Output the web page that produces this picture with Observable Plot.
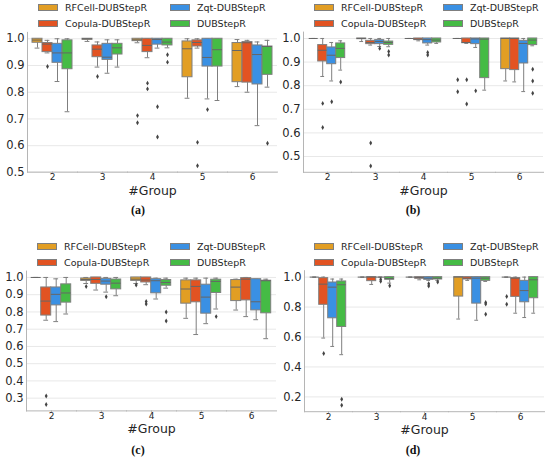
<!DOCTYPE html>
<html>
<head>
<meta charset="utf-8">
<script src="https://cdn.jsdelivr.net/npm/d3@7"></script>
<script src="https://cdn.jsdelivr.net/npm/@observablehq/plot@0.6"></script>
<style>
  body { margin: 0; width: 550px; height: 460px; position: relative; overflow: hidden; background: #fff; font-family: "DejaVu Sans", sans-serif; }
  .leg { position: absolute; }
  .leg-item { position: absolute; display: flex; align-items: center; height: 15px; font-size: 9.5px; color: #262626; white-space: nowrap; }
  .sw { width: 20px; height: 7px; border: 1px solid #7f7f7f; box-sizing: border-box; margin-right: 7px; }
  .cap { position: absolute; font: bold 12px "Liberation Serif", serif; color: #111; transform: translate(-50%, -50%); }
  svg.panel { position: absolute; overflow: visible; }
</style>
</head>
<body>
<script>
// ---------- data ----------
const groups = [2, 3, 4, 5, 6];
const methods = ["RFCell-DUBStepR", "Copula-DUBStepR", "Zqt-DUBStepR", "DUBStepR"];
const colors = ["#E29E24", "#E25322", "#3A90E3", "#45BB45"];
const captions = ["(a)", "(b)", "(c)", "(d)"];
const xLabel = "#Group";

// values are group-major: for each group 2..6, methods in the order above
const aLow  = [0.965,0.947,0.84,0.727, 0.99,0.894,0.871,0.894, 0.985,0.929,0.965,0.966, 0.7775,0.965,0.775,0.769, 0.821,0.8,0.675,0.819];
const aQ1   = [0.985,0.95,0.91,0.886, 0.996,0.931,0.921,0.941, 0.991,0.95,0.978,0.975, 0.856,0.971,0.896,0.896, 0.8375,0.836,0.829,0.865];
const aMed  = [0.995,0.98,0.947,0.947, 1.0,0.961,0.931,0.966, 0.996,0.975,0.997,0.9875, 0.9625,0.986,0.93,0.959, 0.956,0.985,0.941,0.971];
const aQ3   = [1.0,0.984,0.981,0.994, 1.0,0.975,0.981,0.981, 1.0,1.0,1.0,1.0, 0.99,0.994,1.0,1.0, 0.984,0.9875,0.975,0.971];
const aHigh = [1.0,0.994,1.0,1.0, 1.0,0.988,0.996,0.996, 1.0,1.0,1.0,1.0, 1.0,1.0,1.0,1.0, 0.997,0.994,0.988,0.994];
const aOut  = [[],[0.896],[],[], [],[0.859],[],[], [0.7125,0.686],[0.834,0.8125],[0.746,0.6325],[0.94,0.9125], [],[0.6125,0.525],[0.735],[], [],[],[],[0.609]];
const aTicks = [0.5, 0.6, 0.7, 0.8, 0.9, 1.0];

const bLow  = [1,0.839,0.82,0.866, 0.987,0.972,0.966,0.965, 1,0.99,0.972,0.979, 1,0.979,0.962,0.781, 0.82,0.816,0.775,0.969];
const bQ1   = [1,0.9025,0.891,0.917, 0.997,0.976,0.976,0.973, 1,0.993,0.979,0.983, 1,0.98,0.976,0.832, 0.87,0.866,0.894,0.972];
const bMed  = [1,0.95,0.929,0.958, 1,0.983,0.987,0.983, 1,0.997,0.995,0.993, 1,0.983,0.998,0.997, 1,1,0.979,0.993];
const bQ3   = [1,0.972,0.962,0.979, 1,0.99,0.993,0.987, 1,1,1,1, 1,1,1,1, 1,1,0.99,1];
const bHigh = [1,1,0.983,0.99, 1,1,1,1, 1,1,1,1, 1,1,1,1, 1,1,1,1];
const bOut  = [[],[0.725,0.623],[0.732],[0.816], [],[0.557,0.46],[0.958],[0.945,0.93], [],[],[0.941,0.93],[], [0.825,0.774],[0.825,0.722],[0.778],[], [],[],[],[0.87,0.82,0.768]];
const bTicks = [0.5, 0.6, 0.7, 0.8, 0.9, 1.0];

const cLow  = [1,0.752,0.744,0.788, 0.965,0.927,0.915,0.894, 0.965,0.958,0.875,0.938, 0.763,0.669,0.732,0.817, 0.811,0.773,0.755,0.645];
const cQ1   = [1,0.779,0.838,0.854, 0.98,0.963,0.958,0.931, 0.98,0.971,0.908,0.952, 0.848,0.856,0.79,0.91, 0.863,0.867,0.809,0.792];
const cMed  = [1,0.863,0.902,0.91, 0.988,0.988,0.979,0.967, 0.99,0.985,0.981,0.971, 0.933,0.948,0.886,0.977, 0.944,0.99,0.859,0.981];
const cQ3   = [1,0.942,0.942,0.96, 0.994,1,0.992,0.988, 1,1,0.99,0.985, 0.983,0.983,0.958,0.987, 0.985,0.996,0.99,0.981];
const cHigh = [1,1,0.992,1, 1,1,1,1, 1,1,0.996,0.996, 0.996,0.996,0.996,0.996, 0.99,1,0.99,0.99];
const cOut  = [[],[0.313,0.263],[],[], [0.948],[],[0.888],[], [0.956],[0.861,0.846],[],[0.80,0.748], [],[],[],[0.773], [],[],[],[]];
const cTicks = [0.3, 0.4, 0.5, 0.6, 0.7, 0.8, 0.9, 1.0];

const dLow  = [1,0.593,0.537,0.482, 1,0.951,1,0.96, 1,0.982,0.978,0.978, 0.72,0.978,0.712,0.971, 1,0.759,0.73,0.759];
const dQ1   = [1,0.815,0.725,0.667, 1,0.973,1,0.982, 1,0.989,0.982,0.984, 0.87,0.984,0.823,0.975, 1,0.868,0.832,0.859];
const dMed  = [1,0.953,0.933,0.949, 1,1,1,0.991, 1,0.997,0.993,0.993, 1,0.993,0.993,0.993, 1,0.993,0.91,0.982];
const dQ3   = [1,0.993,0.964,0.971, 1,1,1,1, 1,1,1,1, 1,1,1,1, 1,0.993,0.975,1];
const dHigh = [1,1,0.987,0.987, 1,1,1,1, 1,1,1,1, 1,1,1,1, 1,1,1,1];
const dOut  = [[],[0.49],[],[0.184,0.144], [],[],[0.985,0.972],[0.942], [],[],[0.956,0.94],[0.967], [],[],[],[0.83,0.82,0.752], [0.87,0.819],[],[],[]];
const dTicks = [0.2, 0.4, 0.6, 0.8, 1.0];

// ---------- layout (page pixels) ----------
const layout = [
  {left: 0,   top: 28,  width: 280, mL: 26,   mR: 1.7, plotTop: 31.9,  plotBottom: 171.6, height: 172, legX: 38,  legY: 0,     legCol: 132, capX: 138, capY: 210},
  {left: 275, top: 28,  width: 275, mL: 27.3, mR: 5.5, plotTop: 31.6,  plotBottom: 171.8, height: 172, legX: 314, legY: 0,     legCol: 129, capX: 413, capY: 210},
  {left: 0,   top: 265, width: 280, mL: 25.3, mR: 3.4, plotTop: 270.6, plotBottom: 410.4, height: 175, legX: 37,  legY: 239.2, legCol: 133, capX: 138, capY: 450},
  {left: 275, top: 265, width: 275, mL: 27.3, mR: 4.7, plotTop: 270.2, plotBottom: 411.2, height: 175, legX: 314, legY: 239.2, legCol: 129, capX: 413, capY: 450}
];

const panelData = [
  {low: aLow, q1: aQ1, med: aMed, q3: aQ3, high: aHigh, out: aOut, ticks: aTicks},
  {low: bLow, q1: bQ1, med: bMed, q3: bQ3, high: bHigh, out: bOut, ticks: bTicks},
  {low: cLow, q1: cQ1, med: cMed, q3: cQ3, high: cHigh, out: cOut, ticks: cTicks},
  {low: dLow, q1: dQ1, med: dMed, q3: dQ3, high: dHigh, out: dOut, ticks: dTicks}
];

const edge = "#7f7f7f";
const spine = "#b5b5b5";

panelData.forEach((p, pi) => {
  const L = layout[pi];
  const rows = [];
  const outs = [];
  groups.forEach((g, gi) => methods.forEach((m, mi) => {
    const k = gi * methods.length + mi;
    rows.push({group: g, method: m, low: p.low[k], q1: p.q1[k], med: p.med[k], q3: p.q3[k], high: p.high[k]});
    p.out[k].forEach(v => outs.push({group: g, method: m, v}));
  }));
  // matplotlib-style autoscale with 5% margins
  const lo = Math.min(d3.min(rows, d => d.low), d3.min(outs, d => d.v) ?? Infinity);
  const hi = d3.max(rows, d => d.high);
  const pad = (hi - lo) * 0.05;

  const chart = Plot.plot({
    width: L.width,
    height: L.height,
    marginLeft: L.mL,
    marginRight: L.mR,
    marginTop: L.plotTop - L.top,
    marginBottom: L.top + L.height - L.plotBottom,
    style: {background: "transparent", fontFamily: "DejaVu Sans", color: "#262626", overflow: "visible"},
    fx: {domain: groups, padding: 0, label: null},
    x: {domain: methods, paddingInner: 0, paddingOuter: 0.5, axis: null},
    y: {domain: [lo - pad, hi + pad], axis: null},
    color: {domain: methods, range: colors},
    marks: [
      Plot.gridY(p.ticks, {stroke: "#e8e8e8", strokeOpacity: 1}),
      Plot.frame({anchor: "bottom", stroke: spine}),
      Plot.frame({anchor: "left", facetAnchor: "left", stroke: spine}),
      Plot.axisY(p.ticks, {tickSize: 0, tickPadding: 3, tickFormat: d3.format(".1f"), fontSize: 11.5, label: null}),
      Plot.axisFx({anchor: "bottom", tickSize: 2, tickPadding: -0.5, fontSize: 9, label: null, stroke: spine, fill: "#262626"}),
      Plot.text([{g: groups[2]}], {fx: "g", frameAnchor: "bottom", lineAnchor: "middle", dy: 18.5, text: () => xLabel, fontSize: 12.5, fill: "#262626"}),
      Plot.ruleX(rows, {fx: "group", x: "method", y1: "low", y2: "q1", stroke: edge}),
      Plot.ruleX(rows, {fx: "group", x: "method", y1: "q3", y2: "high", stroke: edge}),
      Plot.tickY(rows, {fx: "group", x: "method", y: "low", stroke: edge, insetLeft: 2.6, insetRight: 2.6}),
      Plot.tickY(rows, {fx: "group", x: "method", y: "high", stroke: edge, insetLeft: 2.6, insetRight: 2.6}),
      Plot.barY(rows, {fx: "group", x: "method", y1: "q1", y2: "q3", fill: "method", stroke: edge, strokeWidth: 1}),
      Plot.tickY(rows, {fx: "group", x: "method", y: "med", stroke: "#666", strokeWidth: 1}),
      Plot.dot(outs, {fx: "group", x: "method", y: "v", symbol: "diamond", r: 1.5, fill: "#444", stroke: null})
    ]
  });
  chart.classList.add("panel");
  chart.style.left = L.left + "px";
  chart.style.top = L.top + "px";
  document.body.appendChild(chart);

  // legend (two columns, column-major)
  const leg = document.createElement("div");
  leg.className = "leg";
  leg.style.left = L.legX + "px";
  leg.style.top = L.legY + "px";
  methods.forEach((m, i) => {
    const item = document.createElement("div");
    item.className = "leg-item";
    item.style.left = (Math.floor(i / 2) * L.legCol) + "px";
    item.style.top = ((i % 2) * 15.5) + "px";
    const sw = document.createElement("div");
    sw.className = "sw";
    sw.style.background = colors[i];
    const t = document.createElement("span");
    t.textContent = m;
    item.appendChild(sw);
    item.appendChild(t);
    leg.appendChild(item);
  });
  document.body.appendChild(leg);

  const cap = document.createElement("div");
  cap.className = "cap";
  cap.style.left = L.capX + "px";
  cap.style.top = L.capY + "px";
  cap.textContent = captions[pi];
  document.body.appendChild(cap);
});
</script>
</body>
</html>
